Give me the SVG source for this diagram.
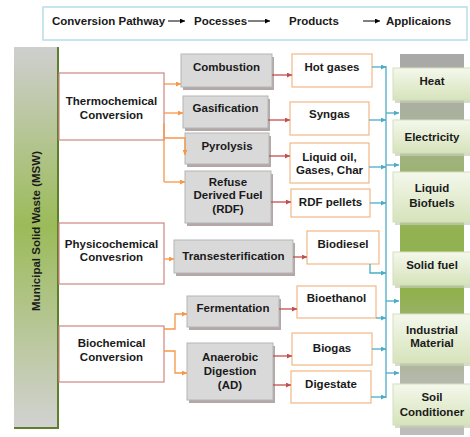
<svg xmlns="http://www.w3.org/2000/svg" width="470" height="437" viewBox="0 0 470 437">
  <defs>
    <style>
      text { font-family: "Liberation Sans", Arial, sans-serif; font-weight: bold; font-size: 11.5px; fill: #1a1a1a; text-anchor: middle; }
      .hdr { text-anchor: start; }
      .conv { fill: #ffffff; stroke: #cf8583; stroke-width: 1.2; }
      .proc { fill: #d9d9d9; stroke: #b5b5b5; stroke-width: 1; }
      .shadow { fill: #b4a7a7; }
      .prod { fill: #ffffff; stroke: #f4b887; stroke-width: 1.2; }
      .app { fill: url(#appGrad); stroke: #d3dfbd; stroke-width: 1; }
      .appShadow { fill: #c4cdb4; opacity: 0.7; }
      .red { stroke: #c0504d; stroke-width: 1.3; fill: none; marker-end: url(#arRed); }
      .orange { stroke: #f79646; stroke-width: 1.3; fill: none; }
      .orangeA { stroke: #f79646; stroke-width: 1.3; fill: none; marker-end: url(#arOrange); }
      .blue { stroke: #4bacc6; stroke-width: 1.3; fill: none; }
      .blueA { stroke: #4bacc6; stroke-width: 1.3; fill: none; marker-end: url(#arBlue); }
      .black { stroke: #000000; stroke-width: 1; fill: none; marker-end: url(#arBlack); }
    </style>
    <marker id="arRed" viewBox="0 0 10 10" refX="10" refY="5" markerWidth="5" markerHeight="5" markerUnits="userSpaceOnUse" orient="auto"><path d="M0,0 L10,5 L0,10 z" fill="#c0504d"/></marker>
    <marker id="arOrange" viewBox="0 0 10 10" refX="10" refY="5" markerWidth="5" markerHeight="5" markerUnits="userSpaceOnUse" orient="auto"><path d="M0,0 L10,5 L0,10 z" fill="#f79646"/></marker>
    <marker id="arBlue" viewBox="0 0 10 10" refX="10" refY="5" markerWidth="5" markerHeight="5" markerUnits="userSpaceOnUse" orient="auto"><path d="M0,0 L10,5 L0,10 z" fill="#4bacc6"/></marker>
    <marker id="arBlack" viewBox="0 0 10 10" refX="10" refY="5" markerWidth="6" markerHeight="5" markerUnits="userSpaceOnUse" orient="auto"><path d="M0,0 L10,5 L0,10 z" fill="#000000"/></marker>
    <linearGradient id="mswGrad" x1="0" y1="0" x2="0" y2="1">
      <stop offset="0" stop-color="#cfcfcf"/>
      <stop offset="0.47" stop-color="#9bbb59"/>
      <stop offset="1" stop-color="#d2d2d2"/>
    </linearGradient>
    <linearGradient id="colGrad" x1="0" y1="0" x2="0" y2="1">
      <stop offset="0" stop-color="#a9a9a9"/>
      <stop offset="0.18" stop-color="#aab19c"/>
      <stop offset="0.4" stop-color="#94b356"/>
      <stop offset="0.62" stop-color="#8fb04a"/>
      <stop offset="0.85" stop-color="#b4b8aa"/>
      <stop offset="1" stop-color="#bdbdbd"/>
    </linearGradient>
    <linearGradient id="appGrad" x1="0" y1="0" x2="0" y2="1">
      <stop offset="0" stop-color="#f4f8ec"/>
      <stop offset="1" stop-color="#d6e3bb"/>
    </linearGradient>
  </defs>

  <!-- header strip -->
  <g id="header">
    <rect x="43" y="7" width="424" height="33" fill="#ffffff" stroke="#b7dde8" stroke-width="1.5"/>
    <text class="hdr" x="52" y="25">Conversion Pathway</text>
    <line class="black" x1="168" y1="21" x2="185" y2="21"/>
    <text class="hdr" x="194" y="25">Pocesses</text>
    <line class="black" x1="248" y1="21" x2="270" y2="21"/>
    <text class="hdr" x="289" y="25">Products</text>
    <line class="black" x1="363" y1="21" x2="380" y2="21"/>
    <text class="hdr" x="386" y="25">Applicaions</text>
  </g>

  <!-- source column -->
  <g id="msw">
    <rect x="14" y="47" width="44" height="381" fill="url(#mswGrad)"/>
    <path d="M58,47 V428 H14" fill="none" stroke="#5f7f2c" stroke-width="2"/>
    <text x="36" y="231" transform="rotate(-90 36 231)" dy="4" font-size="11">Municipal Solid Waste (MSW)</text>
  </g>

  <!-- application column backdrop -->
  <g id="app-column">
    <rect x="400" y="54" width="64" height="381" fill="url(#colGrad)"/>
  </g>

  <!-- conversion pathways -->
  <g id="thermochemical">
    <rect class="conv" x="59" y="73" width="105" height="67"/>
    <text x="111.5" y="105">Thermochemical</text>
    <text x="111.5" y="119">Conversion</text>
  </g>
  <g id="physicochemical">
    <rect class="conv" x="59" y="223" width="105" height="61"/>
    <text x="111.5" y="248">Physicochemical</text>
    <text x="111.5" y="261">Convesrion</text>
  </g>
  <g id="biochemical">
    <rect class="conv" x="59" y="326" width="105" height="56"/>
    <text x="111.5" y="347">Biochemical</text>
    <text x="111.5" y="361">Conversion</text>
  </g>

  <!-- processes -->
  <g id="combustion">
    <rect class="shadow" x="183" y="57" width="91" height="33"/>
    <rect class="proc" x="181" y="54" width="91" height="33"/>
    <text x="226.5" y="71">Combustion</text>
  </g>
  <g id="gasification">
    <rect class="shadow" x="185" y="99" width="85" height="32"/>
    <rect class="proc" x="183" y="96" width="85" height="32"/>
    <text x="225.5" y="112">Gasification</text>
  </g>
  <g id="pyrolysis">
    <rect class="shadow" x="187" y="136" width="84" height="31"/>
    <rect class="proc" x="185" y="133" width="84" height="31"/>
    <text x="227" y="150">Pyrolysis</text>
  </g>
  <g id="rdf">
    <rect class="shadow" x="187" y="174" width="86" height="52"/>
    <rect class="proc" x="185" y="171" width="86" height="52"/>
    <text x="228" y="186">Refuse</text>
    <text x="228" y="199">Derived Fuel</text>
    <text x="228" y="213">(RDF)</text>
  </g>
  <g id="transesterification">
    <rect class="shadow" x="176" y="243" width="119" height="33"/>
    <rect class="proc" x="174" y="240" width="119" height="33"/>
    <text x="233.5" y="260">Transesterification</text>
  </g>
  <g id="fermentation">
    <rect class="shadow" x="189" y="299" width="92" height="31"/>
    <rect class="proc" x="187" y="296" width="92" height="31"/>
    <text x="233" y="312">Fermentation</text>
  </g>
  <g id="anaerobic-digestion">
    <rect class="shadow" x="189" y="346" width="86" height="57"/>
    <rect class="proc" x="187" y="343" width="86" height="57"/>
    <text x="230" y="361">Anaerobic</text>
    <text x="230" y="375">Digestion</text>
    <text x="230" y="389">(AD)</text>
  </g>

  <!-- products -->
  <g id="hot-gases">
    <rect class="prod" x="292" y="54" width="80" height="33"/>
    <text x="332" y="71">Hot gases</text>
  </g>
  <g id="syngas">
    <rect class="prod" x="290" y="102" width="79" height="33"/>
    <text x="329.5" y="118">Syngas</text>
  </g>
  <g id="liquid-oil">
    <rect class="prod" x="290" y="143" width="79" height="40"/>
    <text x="329.5" y="161">Liquid oil,</text>
    <text x="329.5" y="174">Gases, Char</text>
  </g>
  <g id="rdf-pellets">
    <rect class="prod" x="291" y="189" width="79" height="28"/>
    <text x="330.5" y="206">RDF pellets</text>
  </g>
  <g id="biodiesel">
    <rect class="prod" x="307" y="231" width="72" height="33"/>
    <text x="343" y="248">Biodiesel</text>
  </g>
  <g id="bioethanol">
    <rect class="prod" x="297" y="286" width="79" height="32"/>
    <text x="336.5" y="302">Bioethanol</text>
  </g>
  <g id="biogas">
    <rect class="prod" x="292" y="333" width="80" height="32"/>
    <text x="332" y="352">Biogas</text>
  </g>
  <g id="digestate">
    <rect class="prod" x="291" y="371" width="80" height="32"/>
    <text x="331" y="388">Digestate</text>
  </g>

  <!-- applications -->
  <g id="heat">
    <rect class="appShadow" x="395" y="70" width="80" height="33"/>
    <rect class="app" x="393" y="68" width="80" height="32"/>
    <text x="432" y="85">Heat</text>
  </g>
  <g id="electricity">
    <rect class="appShadow" x="395" y="122" width="80" height="34"/>
    <rect class="app" x="393" y="120" width="80" height="33"/>
    <text x="432" y="141">Electricity</text>
  </g>
  <g id="liquid-biofuels">
    <rect class="appShadow" x="395" y="174" width="80" height="51"/>
    <rect class="app" x="393" y="172" width="80" height="50"/>
    <text x="432" y="192">Liquid</text>
    <text x="432" y="207">Biofuels</text>
  </g>
  <g id="solid-fuel">
    <rect class="appShadow" x="395" y="254" width="80" height="34"/>
    <rect class="app" x="393" y="252" width="80" height="33"/>
    <text x="432" y="269">Solid fuel</text>
  </g>
  <g id="industrial-material">
    <rect class="appShadow" x="395" y="316" width="80" height="50"/>
    <rect class="app" x="393" y="314" width="80" height="49"/>
    <text x="432" y="334">Industrial</text>
    <text x="432" y="347">Material</text>
  </g>
  <g id="soil-conditioner">
    <rect class="appShadow" x="395" y="386" width="80" height="42"/>
    <rect class="app" x="393" y="384" width="80" height="41"/>
    <text x="432" y="401">Soil</text>
    <text x="432" y="416">Conditioner</text>
  </g>

  <!-- connectors -->
  <g id="connectors">
    <!-- pathway to process -->
    <line class="orangeA" x1="164" y1="84" x2="181" y2="84"/>
    <line class="orangeA" x1="164" y1="113" x2="183" y2="113"/>
    <line class="orange" x1="164" y1="123" x2="164" y2="182"/>
    <path class="orangeA" d="M164,138 H185 V155"/>
    <line class="orangeA" x1="164" y1="182" x2="185" y2="182"/>
    <line class="orangeA" x1="164" y1="259" x2="174" y2="259"/>
    <path class="orangeA" d="M164,329 H175 V314 H187"/>
    <path class="orangeA" d="M164,351 H175 V373 H187"/>

    <!-- process to product -->
    <line class="red" x1="272" y1="75" x2="292" y2="75"/>
    <line class="red" x1="268" y1="120" x2="290" y2="120"/>
    <line class="red" x1="269" y1="156" x2="290" y2="156"/>
    <line class="red" x1="271" y1="202" x2="291" y2="202"/>
    <line class="red" x1="293" y1="257" x2="307" y2="257"/>
    <line class="red" x1="279" y1="309" x2="297" y2="309"/>
    <line class="red" x1="273" y1="356" x2="292" y2="356"/>
    <line class="red" x1="273" y1="385" x2="291" y2="385"/>

    <!-- product to application bus -->
    <line class="blue" x1="386" y1="66" x2="386" y2="398"/>
    <line class="blueA" x1="372" y1="67" x2="386" y2="67"/>
    <line class="blueA" x1="369" y1="120" x2="386" y2="120"/>
    <line class="blueA" x1="369" y1="167" x2="386" y2="167"/>
    <line class="blueA" x1="370" y1="203" x2="386" y2="203"/>
    <path class="blueA" d="M370,264 V273 H386"/>
    <line class="blueA" x1="376" y1="318" x2="386" y2="318"/>
    <line class="blueA" x1="372" y1="349" x2="386" y2="349"/>
    <line class="blueA" x1="371" y1="397" x2="386" y2="397"/>
    <line class="blueA" x1="386" y1="113" x2="399" y2="113"/>
    <line class="blueA" x1="386" y1="165" x2="399" y2="165"/>
    <line class="blueA" x1="386" y1="301" x2="399" y2="301"/>
    <line class="blueA" x1="386" y1="373" x2="399" y2="373"/>
  </g>
</svg>
